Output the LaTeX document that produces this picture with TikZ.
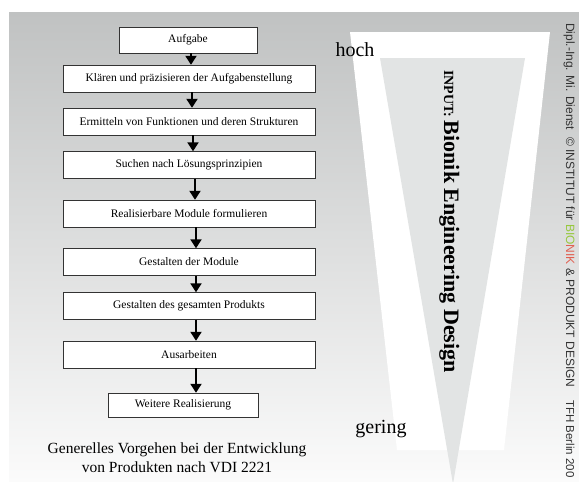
\documentclass[tikz,border=0pt]{standalone}
\usepackage{fontspec}
\setmainfont{Liberation Serif}
\newfontfamily\sansfont{Liberation Sans}
\usetikzlibrary{arrows.meta}
\definecolor{bgtop}{RGB}{192,194,194}
\definecolor{bgbot}{RGB}{251,251,251}
\definecolor{vgray}{RGB}{226,228,228}
\definecolor{bionikgreen}{RGB}{150,200,60}
\definecolor{bionikred}{RGB}{225,95,80}

\begin{document}
\begin{tikzpicture}[x=1pt,y=-1pt,
    stufe/.style={draw=black!80,fill=white,inner sep=0pt,minimum width=252pt,
      minimum height=27pt,font=\fontsize{11.5}{13}\selectfont},
    pfeil/.style={-{Triangle[width=11pt,length=9pt]},line width=2pt},
    seite/.style={rotate=-90,anchor=base west,inner sep=0pt,text=black!80,
      font=\sansfont\fontsize{12}{14}\selectfont}]

      \useasboundingbox (0,0) rectangle (579,482);

      % hintergrund
      \shade[top color=bgtop,bottom color=bgbot] (9,12) rectangle (579,482);

      % trichter
      \fill[white] (350,32) -- (550,32) -- (504,450) -- (397,450) -- cycle;
      \fill[vgray] (380,58) -- (525,58) -- (453,484) -- cycle;

      % stufen
      \node (s1) at (188,40) [stufe,minimum width=138pt,minimum height=26pt] {Aufgabe};
      \node (s2) at (189,78.5) [stufe] {Klären und präzisieren der Aufgabenstellung};
      \node (s3) at (189,121.5) [stufe] {Ermitteln von Funktionen und deren Strukturen};
      \node (s4) at (189,165) [stufe] {Suchen nach Lösungsprinzipien};
      \node (s5) at (189,213.5) [stufe] {Realisierbare Module formulieren};
      \node (s6) at (189,262) [stufe] {Gestalten der Module};
      \node (s7) at (189,306) [stufe] {Gestalten des gesamten Produkts};
      \node (s8) at (189,354.5) [stufe] {Ausarbeiten};
      \node (s9) at (183,405) [stufe,minimum width=150pt,minimum height=24pt] {Weitere Realisierung};

      % pfeile
      \foreach \a/\b/\x in {1/2/191,2/3/192,3/4/193,4/5/195,5/6/196,6/7/196,7/8/196,8/9/196}{
        \path (\x,0) coordinate (p\a);
        \draw[pfeil] (s\a.south -| p\a) to (s\b.north -| p\a);
      }

      % titel
      \node (titel) at (177,457.5) [align=center,font=\fontsize{15.5}{19}\selectfont]
        {Generelles Vorgehen bei der Entwicklung\\von Produkten nach VDI 2221};

      % hoch, gering
      \node (hoch) at (355,56.5) [anchor=base,inner sep=0pt,font=\fontsize{20}{24}\selectfont] {hoch};
      \node (gering) at (381,433) [anchor=base,inner sep=0pt,font=\fontsize{20}{24}\selectfont] {gering};

      % input
      \node (input) at (444,70) [rotate=-90,anchor=base west,inner sep=0pt,font=\bfseries]
        {\fontsize{14}{16}\selectfont INPUT: \fontsize{22}{24}\selectfont Bionik Engineering Design};

      % rand
      \node (autor) at (566,23) [seite] {Dipl.-Ing. Mi. Dienst};
      \node (inst) at (566,137) [seite]
        {© INSTITUT für \textcolor{bionikgreen}{BIO}\textcolor{bionikred}{NIK} \& PRODUKT DESIGN};
      \node (tfh) at (566,400) [seite,font=\sansfont\fontsize{11.5}{14}\selectfont] {TFH Berlin 200};

    \end{tikzpicture}
\end{document}
